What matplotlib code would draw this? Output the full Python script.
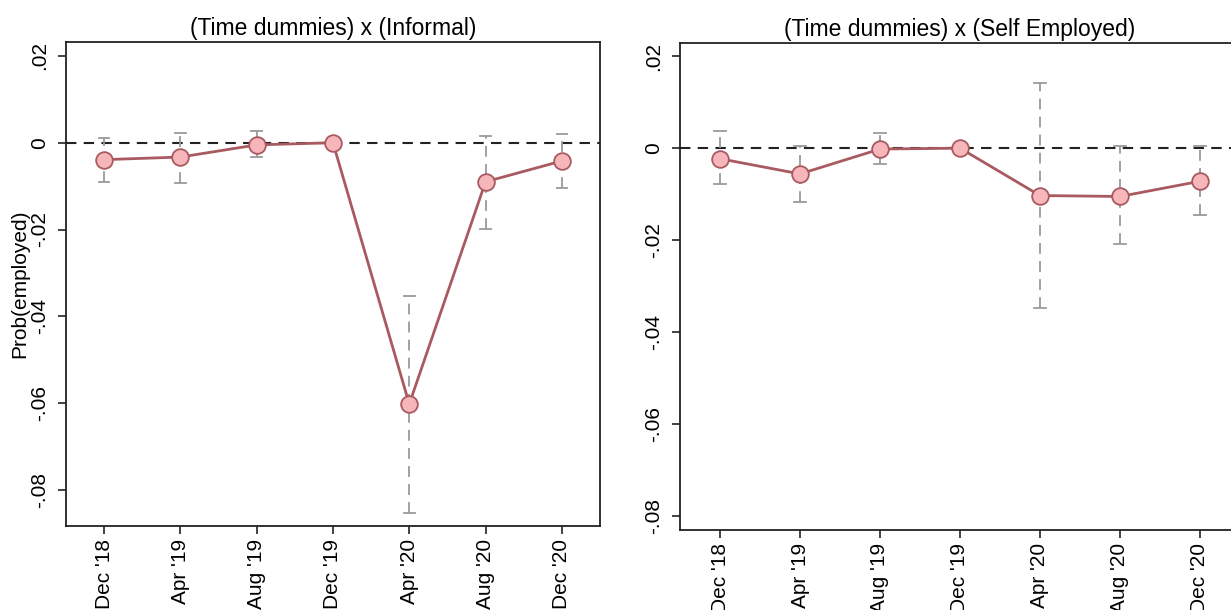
import numpy as np
import matplotlib.pyplot as plt

plt.rcParams['font.family'] = ['Liberation Sans', 'DejaVu Sans']

# Period labels
periods = ["Dec '18", "Apr '19", "Aug '19", "Dec '19", "Apr '20", "Aug '20", "Dec '20"]

# (Time dummies) x (Informal)
inf_coef = [-0.0039, -0.0033, -0.0005, 0.0, -0.0602, -0.0090, -0.0042]
inf_lo = [-0.0090, -0.0092, -0.0034, np.nan, -0.0853, -0.0198, -0.0105]
inf_hi = [0.0011, 0.0023, 0.0026, np.nan, -0.0354, 0.0015, 0.0021]

# (Time dummies) x (Self Employed)
se_coef = [-0.0023, -0.0056, -0.0002, 0.0, -0.0103, -0.0105, -0.0072]
se_lo = [-0.0079, -0.0116, -0.0035, np.nan, -0.0348, -0.0209, -0.0145]
se_hi = [0.0038, 0.0005, 0.0032, np.nan, 0.0141, 0.0004, 0.0004]

yticks = [0.02, 0, -0.02, -0.04, -0.06, -0.08]
ytick_labels = ['.02', '0', '-.02', '-.04', '-.06', '-.08']

line_color = '#a85a60'
face_color = '#f7b6b9'
ci_color = '#9a9a9a'


def draw_panel(ax, coef, lo, hi, title, ylim):
    x = np.arange(len(periods))
    # Confidence intervals
    for xi, l, h in zip(x, lo, hi):
        if np.isnan(l):
            continue
        ax.plot([xi, xi], [l, h], color=ci_color, lw=1.3, ls=(0, (6, 4)), zorder=2)
        ax.plot([xi - 0.07, xi + 0.07], [l, l], color=ci_color, lw=1.3, zorder=2)
        ax.plot([xi - 0.07, xi + 0.07], [h, h], color=ci_color, lw=1.3, zorder=2)
    ax.axhline(0, color='#222222', lw=1.5, ls=(0, (5, 3.5)), zorder=1)
    ax.plot(x, coef, color=line_color, lw=2, marker='o', ms=12,
            mfc=face_color, mec=line_color, mew=1.3, zorder=3)

    ax.set_xlim(-0.5, 6.5)
    ax.set_ylim(*ylim)
    ax.set_xticks(x)
    ax.set_xticklabels(periods, rotation=90, fontsize=15)
    ax.set_yticks(yticks)
    ax.set_yticklabels(ytick_labels, rotation=90, va='center', fontsize=15)
    ax.tick_params(axis='both', length=6, width=1.2, color='#222222')
    ax.tick_params(axis='y', pad=6)
    for s in ax.spines.values():
        s.set_linewidth(1.3)
        s.set_color('#222222')
    ax.set_title(title, fontsize=16.5, pad=5)


fig = plt.figure(figsize=(12.31, 6.10), dpi=100)
ax1 = fig.add_axes([0.0536, 0.1377, 0.4338, 0.7934])
ax2 = fig.add_axes([0.5524, 0.1311, 0.4549, 0.798])

draw_panel(ax1, inf_coef, inf_lo, inf_hi, '(Time dummies) x (Informal)', (-0.0883, 0.0232))
draw_panel(ax2, se_coef, se_lo, se_hi, '(Time dummies) x (Self Employed)', (-0.083, 0.0228))
ax1.set_ylabel('Prob(employed)', fontsize=15, labelpad=1)

fig.savefig('out.png', dpi=100)
